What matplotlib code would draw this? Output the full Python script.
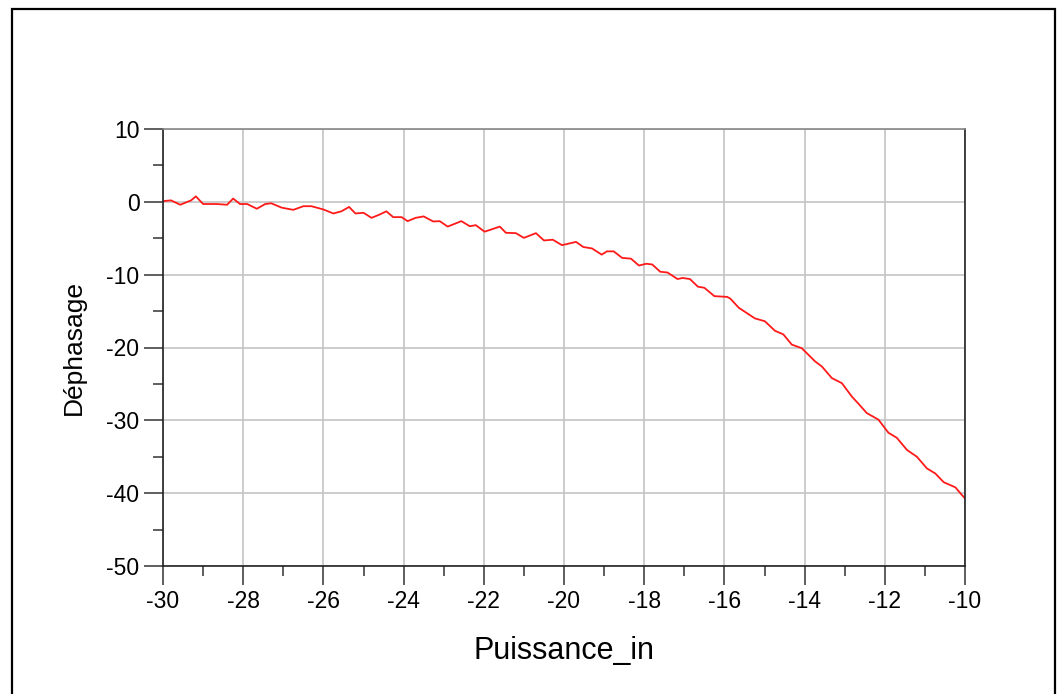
import matplotlib
matplotlib.use("Agg")
import matplotlib.pyplot as plt
from matplotlib.patches import Rectangle
from matplotlib.ticker import MultipleLocator

plt.rcParams['font.family'] = ['Liberation Sans', 'DejaVu Sans']
plt.rcParams['axes.unicode_minus'] = False

# points (Puissance_in, Déphasage)
puissance_in = [-30, -29.8, -29.57, -29.3, -29.18, -29.0, -28.66, -28.4, -28.25, -28.08,
                -27.9, -27.66, -27.45, -27.3, -27.04, -26.75, -26.5, -26.3, -26.0, -25.75,
                -25.55, -25.36, -25.2, -25.0, -24.8, -24.6, -24.43, -24.26, -24.05, -23.9,
                -23.7, -23.5, -23.26, -23.1, -22.9, -22.56, -22.35, -22.2, -21.98, -21.6,
                -21.45, -21.2, -21.0, -20.7, -20.5, -20.28, -20.05, -19.7, -19.52, -19.3,
                -19.06, -18.93, -18.76, -18.55, -18.33, -18.13, -17.95, -17.8, -17.6, -17.42,
                -17.17, -17.04, -16.86, -16.66, -16.5, -16.25, -15.93, -15.85, -15.64, -15.24,
                -14.99, -14.74, -14.53, -14.32, -14.07, -13.74, -13.57, -13.32, -13.07, -12.82,
                -12.66, -12.45, -12.16, -11.91, -11.7, -11.45, -11.2, -10.95, -10.74, -10.53,
                -10.24, -10.07, -10.0]
dephasage = [0.1, 0.2, -0.4, 0.2, 0.75, -0.3, -0.3, -0.4, 0.45, -0.3,
             -0.3, -0.95, -0.3, -0.2, -0.8, -1.1, -0.6, -0.6, -1.05, -1.6,
             -1.3, -0.7, -1.6, -1.5, -2.2, -1.75, -1.3, -2.1, -2.1, -2.65,
             -2.2, -2.0, -2.7, -2.65, -3.4, -2.65, -3.35, -3.2, -4.1, -3.4,
             -4.25, -4.3, -4.95, -4.3, -5.3, -5.2, -5.95, -5.5, -6.2, -6.4,
             -7.25, -6.8, -6.8, -7.7, -7.8, -8.75, -8.5, -8.6, -9.6, -9.7,
             -10.6, -10.45, -10.6, -11.65, -11.8, -12.95, -13.05, -13.3, -14.55, -16.0,
             -16.4, -17.7, -18.2, -19.6, -20.1, -21.9, -22.6, -24.2, -24.9, -26.75,
             -27.7, -29.0, -29.9, -31.7, -32.4, -34.05, -35.0, -36.6, -37.3, -38.5,
             -39.2, -40.3, -40.7]

fig = plt.figure(figsize=(10.57, 6.94), dpi=100)
ax = fig.add_axes([163/1057, 1-566/694, (965-163)/1057, (566-129)/694])

ax.plot(puissance_in, dephasage, color='#ff1a1a', linewidth=1.3)

ax.set_xlim(-30, -10)
ax.set_ylim(-50, 10)
ax.xaxis.set_major_locator(MultipleLocator(2))
ax.xaxis.set_minor_locator(MultipleLocator(1))
ax.yaxis.set_major_locator(MultipleLocator(10))
ax.yaxis.set_minor_locator(MultipleLocator(5))

ax.grid(True, which='major', color='#c4c4c4', linewidth=1.2)
ax.set_axisbelow(True)

ax.tick_params(axis='x', which='major', direction='out', length=13.5, width=1.1,
               color='#333333', labelsize=16.5, pad=4)
ax.tick_params(axis='x', which='minor', direction='out', length=7, width=1.1, color='#333333')
ax.tick_params(axis='y', which='major', direction='out', length=14, width=1.1,
               color='#333333', labelsize=16.5, pad=3)
ax.tick_params(axis='y', which='minor', direction='out', length=7, width=1.1, color='#333333')

for side in ['left', 'bottom', 'right']:
    ax.spines[side].set_color('#222222')
    ax.spines[side].set_linewidth(1.2)
ax.spines['top'].set_color('#888888')
ax.spines['top'].set_linewidth(1.2)

ax.set_xlabel('Puissance_in', fontsize=22, labelpad=16)
ax.set_ylabel('Déphasage', fontsize=19, labelpad=15)

# cadre noir autour de la figure
fig.patches.append(Rectangle((12/1057, -0.02), 1043/1057, 1-9/694+0.02,
                             transform=fig.transFigure, fill=False,
                             edgecolor='black', linewidth=1.6, clip_on=False))

fig.savefig('out.png', dpi=100)
